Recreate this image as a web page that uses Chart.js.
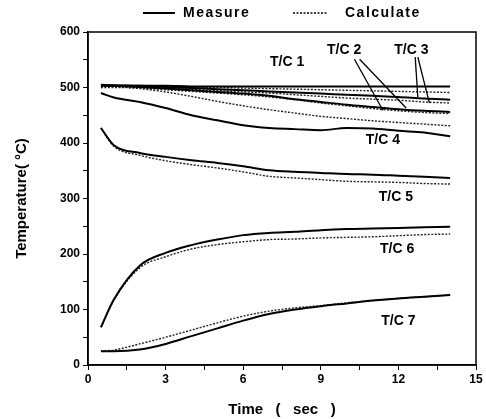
<!DOCTYPE html>
<html>
<head>
<meta charset="utf-8">
<script src="https://cdn.jsdelivr.net/npm/chart.js@4/dist/chart.umd.min.js"></script>
<style>
  html, body { margin: 0; padding: 0; background: #fff; }
  #wrap { width: 486px; height: 419px; }
</style>
</head>
<body>
<div id="wrap"><canvas id="chart" width="486" height="419"></canvas></div>
<script>
// time axis (sec)
const times = [0.5, 1, 2, 3, 4, 5, 6, 7, 8, 9, 10, 11, 12, 13, 14];

// measured temperatures (°C)
const tc1Meas = [503, 503, 503, 503, 502, 502, 502, 502, 502, 502, 502, 502, 502, 502, 502];
const tc2Meas = [504, 503, 501, 498, 495, 492, 489, 485, 479, 474, 469, 465, 461, 458, 456];
const tc3Meas = [505, 504, 503, 501, 499, 497, 495, 493, 491, 489, 487, 485, 483, 480, 478];
const tc4Meas = [490, 482, 474, 463, 450, 441, 432, 427, 425, 423, 427, 426, 422, 419, 412];
const tc5Meas = [427, 396, 382, 375, 369, 364, 358, 351, 348, 346, 344, 343, 341, 339, 337];
const tc6Meas = [68, 118, 179, 202, 216, 226, 234, 238, 240, 243, 245, 246, 247, 248, 249];
const tc7Meas = [25, 25, 28, 38, 52, 66, 80, 92, 100, 106, 111, 116, 120, 123, 126];

// calculated temperatures (°C)
const tc1Calc = [505, 504, 503, 502, 501, 500, 499, 498, 497, 496, 495, 494, 493, 492, 491];
const tc2Calc = [500, 500, 499, 496, 493, 490, 487, 483, 478, 472, 467, 462, 458, 455, 453];
const tc3Calc = [502, 502, 501, 499, 497, 494, 492, 490, 487, 484, 481, 479, 477, 474, 472];
const tc4Calc = [503, 502, 498, 492, 484, 475, 467, 460, 454, 448, 444, 440, 437, 434, 431];
const tc5Calc = [427, 394, 378, 368, 361, 355, 348, 340, 337, 334, 331, 330, 329, 327, 326];
const tc6Calc = [68, 117, 175, 195, 209, 217, 222, 226, 227, 229, 230, 231, 233, 235, 236];
const tc7Calc = [25, 27, 38, 50, 63, 76, 88, 97, 103, 107, 112, 116, 120, 123, 126];

// curve labels [text, time, temp]
const curveLabels = [
  ["T/C 1", 7.7, 546],
  ["T/C 2", 9.9, 568],
  ["T/C 3", 12.5, 568],
  ["T/C 4", 11.4, 405],
  ["T/C 5", 11.9, 303],
  ["T/C 6", 11.95, 209],
  ["T/C 7", 12.0, 79],
];

// leader lines [t1, v1, t2, v2]
const leaders = [
  [10.3, 551, 11.4, 459],
  [10.5, 551, 12.3, 463],
  [12.65, 555, 12.75, 483],
  [12.75, 555, 13.2, 472],
];

const FONT = "'Liberation Sans', Arial, sans-serif";

function toPoints(vals) {
  return vals.map((v, i) => ({ x: times[i], y: v }));
}

const measured = [tc1Meas, tc2Meas, tc3Meas, tc4Meas, tc5Meas, tc6Meas, tc7Meas];
const calculated = [tc1Calc, tc2Calc, tc3Calc, tc4Calc, tc5Calc, tc6Calc, tc7Calc];

const datasets = [];
measured.forEach((vals, i) => {
  datasets.push({
    label: "Measure T/C " + (i + 1),
    data: toPoints(vals),
    borderColor: "#000",
    borderWidth: 2,
    pointRadius: 0,
    cubicInterpolationMode: "monotone",
  });
});
calculated.forEach((vals, i) => {
  datasets.push({
    label: "Calculate T/C " + (i + 1),
    data: toPoints(vals),
    borderColor: "#222",
    borderWidth: 1.4,
    borderDash: [2, 1.5],
    pointRadius: 0,
    cubicInterpolationMode: "monotone",
  });
});

// frame, legend, curve labels and leader lines
const decorations = {
  id: "decorations",
  afterDraw(chart) {
    const ctx = chart.ctx;
    const area = chart.chartArea;
    const xs = chart.scales.x;
    const ys = chart.scales.y;
    ctx.save();

    // box around plot
    ctx.strokeStyle = "#000";
    ctx.lineWidth = 1.5;
    ctx.strokeRect(area.left, area.top, area.right - area.left, area.bottom - area.top);

    // leaders
    ctx.lineWidth = 1.3;
    leaders.forEach(([t1, v1, t2, v2]) => {
      ctx.beginPath();
      ctx.moveTo(xs.getPixelForValue(t1), ys.getPixelForValue(v1));
      ctx.lineTo(xs.getPixelForValue(t2), ys.getPixelForValue(v2));
      ctx.stroke();
    });

    // curve labels
    ctx.fillStyle = "#000";
    ctx.font = "bold 14px " + FONT;
    ctx.textAlign = "center";
    ctx.textBaseline = "middle";
    curveLabels.forEach(([txt, t, v]) => {
      ctx.fillText(txt, xs.getPixelForValue(t), ys.getPixelForValue(v));
    });

    // legend
    const ly = 13;
    ctx.lineWidth = 2;
    ctx.beginPath();
    ctx.moveTo(143, ly);
    ctx.lineTo(175, ly);
    ctx.stroke();
    ctx.lineWidth = 1.4;
    ctx.setLineDash([2, 1.5]);
    ctx.beginPath();
    ctx.moveTo(293, ly);
    ctx.lineTo(328, ly);
    ctx.stroke();
    ctx.setLineDash([]);
    ctx.font = "bold 14px " + FONT;
    ctx.textAlign = "left";
    ctx.letterSpacing = "1.5px";
    ctx.fillText("Measure", 183, ly);
    ctx.fillText("Calculate", 345, ly);
    ctx.restore();
  },
};

new Chart(document.getElementById("chart"), {
  type: "line",
  data: { datasets },
  options: {
    responsive: false,
    animation: false,
    layout: { padding: { top: 32, right: 10, left: 0, bottom: 0 } },
    plugins: {
      legend: { display: false },
      tooltip: { enabled: false },
    },
    scales: {
      x: {
        type: "linear",
        min: 0,
        max: 15,
        afterFit: (scale) => { scale.height = 54; },
        ticks: {
          stepSize: 1.5,
          autoSkip: false,
          maxRotation: 0,
          padding: 2,
          color: "#000",
          font: { family: FONT, size: 12, weight: "bold" },
          callback: (v) => (Math.abs(v % 3) < 1e-6 ? v : ""),
        },
        grid: { drawOnChartArea: false, color: "#000", tickLength: 5 },
        border: { color: "#000", width: 1.5 },
        title: {
          display: true,
          text: "Time   (   sec   )",
          color: "#000",
          font: { family: FONT, size: 15, weight: "bold" },
          padding: { top: 3, bottom: 0 },
        },
      },
      y: {
        min: 0,
        max: 600,
        afterFit: (scale) => { scale.width = 88; },
        ticks: {
          stepSize: 50,
          autoSkip: false,
          padding: 3,
          color: "#000",
          font: { family: FONT, size: 12, weight: "bold" },
          callback: (v) => (v % 100 === 0 ? v : ""),
        },
        grid: { drawOnChartArea: false, color: "#000", tickLength: 5 },
        border: { color: "#000", width: 1.5 },
        title: {
          display: true,
          text: "Temperature( \u00B0C)",
          color: "#000",
          font: { family: FONT, size: 15, weight: "bold" },
          padding: { top: 13, bottom: 0 },
        },
      },
    },
  },
  plugins: [decorations],
});
</script>
</body>
</html>
